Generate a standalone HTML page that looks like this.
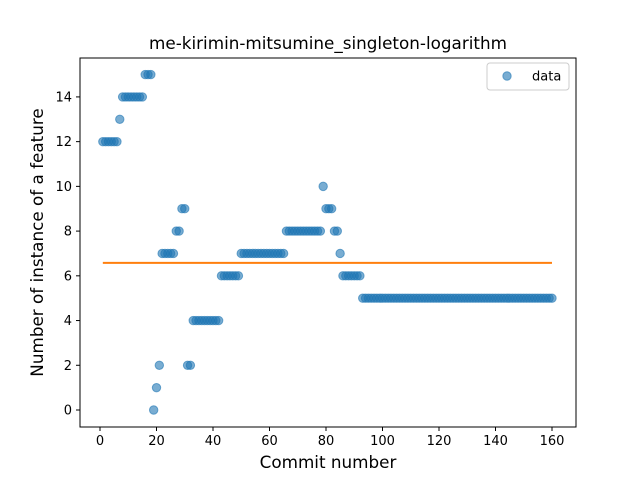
<!DOCTYPE html>
<html><head><meta charset="utf-8"><style>
body{margin:0;background:#fff;font-family:"DejaVu Sans","Liberation Sans",sans-serif;}
svg text{font-family:"DejaVu Sans","Liberation Sans",sans-serif;}
</style></head><body>
<svg id="chart" width="640" height="480" xmlns="http://www.w3.org/2000/svg"></svg>
<script>
const commits = [];
const values = [12,12,12,12,12,12,13,14,14,14,14,14,14,14,14,15,15,15,0,1,2,7,7,7,7,7,8,8,9,9,2,2,4,4,4,4,4,4,4,4,4,4,6,6,6,6,6,6,6,
7,7,7,7,7,7,7,7,7,7,7,7,7,7,7,7,8,8,8,8,8,8,8,8,8,8,8,8,8,10,9,9,9,8,8,7,6,6,6,6,6,6,6,
5,5,5,5,5,5,5,5,5,5,5,5,5,5,5,5,5,5,5,5,5,5,5,5,5,5,5,5,5,5,5,5,5,5,5,5,5,5,5,5,5,5,5,5,5,5,5,5,5,5,5,5,5,5,5,5,5,5,5,5,5,5,5,5,5,5,5,5];
for (let i = 0; i < values.length; i++) commits.push(i + 1);
const meanValue = 6.58;
const xTicks = [0,20,40,60,80,100,120,140,160];
const yTicks = [0,2,4,6,8,10,12,14];

const L=80,R=576,T=58,B=427;
const xMin=-7.08,xMax=168.5,yMin=-0.76,yMax=15.74;
const sx=v=>L+(v-xMin)/(xMax-xMin)*(R-L);
const sy=v=>B-(v-yMin)/(yMax-yMin)*(B-T);
const svg=document.getElementById('chart');
const NS='http://www.w3.org/2000/svg';
function mk(tag,attrs,parent){const e=document.createElementNS(NS,tag);for(const k in attrs)e.setAttribute(k,attrs[k]);(parent||svg).appendChild(e);return e;}

const pts=mk('g',{});


for(let i=0;i<values.length;i++){
  const c=mk('circle',{cx:sx(commits[i]),cy:sy(values[i]),r:4.2,fill:'#1f77b4','fill-opacity':0.6,stroke:'#1f77b4','stroke-opacity':0.6,'stroke-width':1},pts);
  
  
}
const ml=mk('line',{x1:sx(commits[0]),x2:sx(commits[commits.length-1]),y1:sy(meanValue),y2:sy(meanValue),stroke:'#ff7f0e','stroke-width':2});



const frame=mk('rect',{x:L,y:T,width:R-L,height:B-T,fill:'none',stroke:'#000','stroke-width':1});



for(const t of xTicks){
  const x=sx(t);
  mk('line',{x1:x,x2:x,y1:B,y2:B+4,stroke:'#000'});
  const tx=mk('text',{x:x,y:B+18,'font-size':13,'text-anchor':'middle',fill:'#000'});
  tx.textContent=t;
  
  
}
for(const t of yTicks){
  const y=sy(t);
  mk('line',{x1:L-4,x2:L,y1:y,y2:y,stroke:'#000'});
  const tx=mk('text',{x:L-8,y:y+4.5,'font-size':13,'text-anchor':'end',fill:'#000'});
  tx.textContent=t;
  
  
}
const title=mk('text',{x:(L+R)/2,y:49,'font-size':16.8,'text-anchor':'middle'});
title.textContent='me-kirimin-mitsumine_singleton-logarithm';


const xl=mk('text',{x:(L+R)/2,y:468,'font-size':16.8,'text-anchor':'middle'});
xl.textContent='Commit number';


const yl=mk('text',{x:0,y:0,'font-size':16.8,'text-anchor':'middle',transform:'translate(43,'+((T+B)/2)+') rotate(-90)'});
yl.textContent='Number of instance of a feature';



const lg=mk('g',{});


mk('rect',{x:487,y:63,width:82,height:27,rx:3,fill:'#fff',stroke:'#ccc'},lg);
mk('circle',{cx:507,cy:76,r:4.2,fill:'#1f77b4','fill-opacity':0.6,stroke:'#1f77b4','stroke-opacity':0.6},lg);
const lt=mk('text',{x:532,y:80.5,'font-size':13},lg);
lt.textContent='data';


</script>
</body></html>
